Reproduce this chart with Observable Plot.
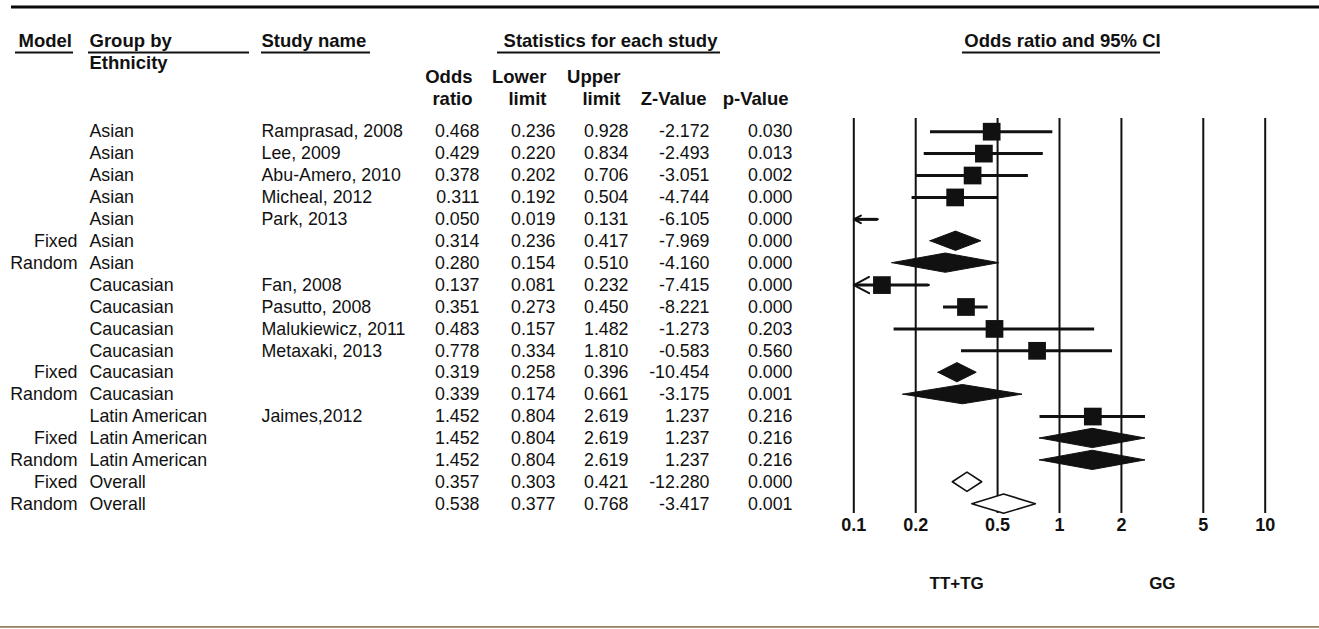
<!DOCTYPE html>
<html><head><meta charset="utf-8">
<script src="https://cdn.jsdelivr.net/npm/d3@7"></script>
<script src="https://cdn.jsdelivr.net/npm/@observablehq/plot@0.6"></script>
<style>
html,body{margin:0;padding:0;background:#fff;overflow:hidden;}
#chart{position:relative;width:1319px;height:629px;}
#chart svg{position:absolute;left:0;top:0;}
</style></head><body><div id="chart"></div>
<script>
// ---------- data ----------
const models = ["", "", "", "", "", "Fixed", "Random", "", "", "", "", "Fixed", "Random", "", "Fixed", "Random", "Fixed", "Random"];
const groups = ["Asian", "Asian", "Asian", "Asian", "Asian", "Asian", "Asian",
  "Caucasian", "Caucasian", "Caucasian", "Caucasian", "Caucasian", "Caucasian",
  "Latin American", "Latin American", "Latin American", "Overall", "Overall"];
const studies = ["Ramprasad, 2008", "Lee, 2009", "Abu-Amero, 2010", "Micheal, 2012", "Park, 2013", "", "",
  "Fan, 2008", "Pasutto, 2008", "Malukiewicz, 2011", "Metaxaki, 2013", "", "",
  "Jaimes,2012", "", "", "", ""];
const oddsRatios = [0.468, 0.429, 0.378, 0.311, 0.050, 0.314, 0.280, 0.137, 0.351, 0.483, 0.778, 0.319, 0.339, 1.452, 1.452, 1.452, 0.357, 0.538];
const lowerLimits = [0.236, 0.220, 0.202, 0.192, 0.019, 0.236, 0.154, 0.081, 0.273, 0.157, 0.334, 0.258, 0.174, 0.804, 0.804, 0.804, 0.303, 0.377];
const upperLimits = [0.928, 0.834, 0.706, 0.504, 0.131, 0.417, 0.510, 0.232, 0.450, 1.482, 1.810, 0.396, 0.661, 2.619, 2.619, 2.619, 0.421, 0.768];
const zValues = [-2.172, -2.493, -3.051, -4.744, -6.105, -7.969, -4.160, -7.415, -8.221, -1.273, -0.583, -10.454, -3.175, 1.237, 1.237, 1.237, -12.280, -3.417];
const pValues = [0.030, 0.013, 0.002, 0.000, 0.000, 0.000, 0.000, 0.000, 0.000, 0.203, 0.560, 0.000, 0.001, 0.216, 0.216, 0.216, 0.000, 0.001];

const headerTitles = ["Model", "Group by", "Study name", "Statistics for each study", "Odds ratio and 95% CI"];
const subHeader = "Ethnicity";
const columnHeads = ["Odds\nratio", "Lower\nlimit", "Upper\nlimit", "Z-Value", "p-Value"];
const axisTicks = [0.1, 0.2, 0.5, 1, 2, 5, 10];
const favourLabels = ["TT+TG", "GG"];

// ---------- derived table ----------
const rows = studies.map((s, i) => ({
  i, model: models[i], group: groups[i], study: s,
  or: oddsRatios[i], lo: lowerLimits[i], hi: upperLimits[i], z: zValues[i], p: pValues[i]
}));
const isSummary = d => d.model !== "";
const fmt3 = v => v.toFixed(3);

// ---------- layout (positions / styles) ----------
const W = 1319, H = 629;
const FONT = "'Liberation Sans', Arial, Helvetica, sans-serif";
const INK = "#111";
const yOpts = {domain: [0, rows.length - 1], range: [131.2, 503.7], axis: null};
const HR = {topRule: -5.69, title: -4.14, underline: -3.61, sub: -3.12, twoLine: -2.06, oneLine: -1.56, bottomRule: 22.6};
const headerLayout = [
  {x: 18, anchor: "start", u: [15, 73]},
  {x: 89, anchor: "start", u: [88, 249]},
  {x: 261, anchor: "start", u: [261, 370]},
  {x: 610, anchor: "middle", u: [497, 720]},
  {x: 1062, anchor: "middle", u: [962, 1160]}
];
const columnHeadX = [472, 546, 620, 706, 788];
const columns = [
  {get: d => d.model, x: 77, anchor: "end"},
  {get: d => d.group, x: 89, anchor: "start"},
  {get: d => d.study, x: 261, anchor: "start"},
  {get: d => fmt3(d.or), x: 479, anchor: "end"},
  {get: d => fmt3(d.lo), x: 555, anchor: "end"},
  {get: d => fmt3(d.hi), x: 628, anchor: "end"},
  {get: d => fmt3(d.z), x: 709, anchor: "end"},
  {get: d => fmt3(d.p), x: 792, anchor: "end"}
];

// ---------- left: table ----------
function tableMarks() {
  const marks = [
    Plot.ruleY([HR.topRule], {x1: 11, x2: W, stroke: "#0a0a0a", strokeWidth: 3}),
    Plot.ruleY([HR.bottomRule], {x1: 0, x2: W, stroke: "#9a7c62", strokeWidth: 1.6})
  ];
  for (const anchor of ["start", "middle"]) {
    const idx = headerTitles.map((d, i) => i).filter(i => headerLayout[i].anchor === anchor);
    marks.push(Plot.text(idx, {x: i => headerLayout[i].x, y: HR.title, text: i => headerTitles[i],
      textAnchor: anchor, fontWeight: "bold", fontSize: 18.5, fill: INK, letterSpacing: -0.2}));
  }
  marks.push(Plot.ruleY(headerTitles.map((d, i) => i), {y: HR.underline, x1: i => headerLayout[i].u[0], x2: i => headerLayout[i].u[1], stroke: INK, strokeWidth: 2}));
  marks.push(Plot.text([subHeader], {x: 89, y: HR.sub, text: d => d, textAnchor: "start", fontWeight: "bold", fontSize: 18.5, fill: INK, letterSpacing: -0.2}));
  marks.push(Plot.text(columnHeads.map((d, i) => i), {x: i => columnHeadX[i], y: i => columnHeads[i].includes("\n") ? HR.twoLine : HR.oneLine,
    text: i => columnHeads[i], textAnchor: "end", lineHeight: 1.2, fontWeight: "bold", fontSize: 18.5, fill: INK, letterSpacing: -0.2}));
  for (const c of columns) marks.push(Plot.text(rows, {x: () => c.x, y: "i", text: c.get, textAnchor: c.anchor, fontSize: 17.8, fill: INK}));
  return marks;
}

const table = Plot.plot({
  width: W, height: H, margin: 0,
  x: {type: "identity", axis: null},
  y: yOpts,
  style: {fontFamily: FONT, background: "white"},
  marks: tableMarks()
});

// ---------- right: forest plot ----------
const xDomain = [0.1, 10];
const studyRows = rows.filter(d => !isSummary(d));
const summaryRows = rows.filter(isSummary);
const halfH = 0.44; // diamond half-height in row units
const diamondPts = summaryRows.flatMap(d => [
  {key: d.i, hollow: d.group === "Overall", x: d.lo, y1: d.i, y2: d.i},
  {key: d.i, hollow: d.group === "Overall", x: d.or, y1: d.i - halfH, y2: d.i + halfH},
  {key: d.i, hollow: d.group === "Overall", x: d.hi, y1: d.i, y2: d.i}
]);
const favourX = [Math.sqrt(xDomain[0] * 1), Math.sqrt(1 * xDomain[1])];

const forest = Plot.plot({
  width: W, height: H,
  marginLeft: 853.3, marginRight: 54.3, marginTop: 118, marginBottom: 116,
  x: {type: "log", domain: xDomain, axis: null},
  y: yOpts,
  style: {fontFamily: FONT, background: "transparent", overflow: "visible"},
  marks: [
    Plot.ruleX(axisTicks, {stroke: INK, strokeWidth: 2}),
    Plot.ruleY(studyRows, {y: "i", x1: d => Math.max(d.lo, xDomain[0]), x2: "hi", stroke: INK, strokeWidth: 3}),
    Plot.arrow(studyRows.filter(d => d.lo < xDomain[0]), {x1: "hi", x2: () => xDomain[0], y1: "i", y2: "i",
      stroke: INK, strokeWidth: 2, headLength: 13, headAngle: 56}),
    Plot.dot(studyRows.filter(d => d.or >= xDomain[0]), {x: "or", y: "i", symbol: "square", r: 10, fill: INK, stroke: "none"}),
    Plot.area(diamondPts.filter(d => !d.hollow), {x1: "x", y1: "y1", y2: "y2", z: "key", fill: INK, stroke: INK, strokeWidth: 1}),
    Plot.area(diamondPts.filter(d => d.hollow), {x1: "x", y1: "y1", y2: "y2", z: "key", fill: "white", stroke: INK, strokeWidth: 1.6}),
    Plot.text(axisTicks, {x: d => d, text: d => String(d), frameAnchor: "bottom", lineAnchor: "middle", dy: 12,
      fontWeight: "bold", fontSize: 18, fill: INK, letterSpacing: -0.6}),
    Plot.text(favourLabels, {x: (d, i) => favourX[i], text: d => d, frameAnchor: "bottom", lineAnchor: "middle", dy: 70,
      fontWeight: "bold", fontSize: 17, fill: INK, letterSpacing: -1})
  ]
});

document.getElementById("chart").append(table, forest);
</script>
</body></html>
